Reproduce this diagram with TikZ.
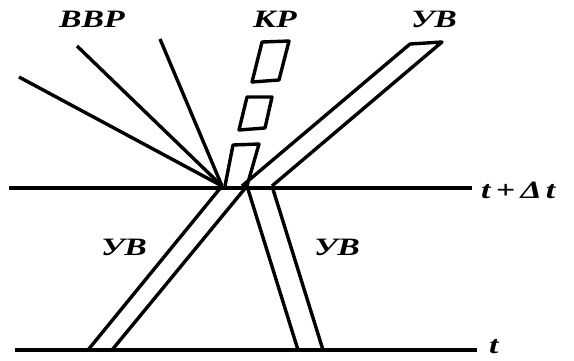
\documentclass[tikz,border=0pt]{standalone}
\usepackage{fontspec}
\setmainfont{Liberation Serif}
\newcommand{\lblw}[1]{\scalebox{1.35}[1]{#1}}
\begin{document}
\begin{tikzpicture}[x=1pt,y=-1pt,
  ln/.style={line width=3.4pt, line join=round},
  lbl/.style={font=\fontsize{25}{25}\selectfont\bfseries\itshape, inner sep=0pt}]
\useasboundingbox (0,0) rectangle (574,360);
% key points
\coordinate (C) at (222,186);
\coordinate (L1) at (9,188);
\coordinate (L2) at (472,188);
\coordinate (B1) at (15,350);
\coordinate (B2) at (477,350);
% horizontal lines
\draw[ln] (L1) -- (L2);
\draw[ln] (B1) -- (B2);
% BBP rays
\coordinate (r1) at (19,77);
\coordinate (r2) at (77,46);
\coordinate (r3) at (160,39);
\draw[ln] (r1) -- (C);
\draw[ln] (r2) -- (C);
\draw[ln] (r3) -- (C);
% KR dashes
\draw[ln] (262,42) -- (289,41) -- (279,80) -- (252,82) -- cycle;
\draw[ln] (247,97) -- (272,97) -- (265,128) -- (239,130) -- cycle;
\coordinate (k1) at (225,186);
\coordinate (k2) at (247,186);
\draw[ln] (k1) -- (233,145) -- (259,144) -- (k2);
% upper right UB band
\coordinate (u1) at (242,186);
\coordinate (u2) at (272,186);
\coordinate (ut1) at (410,44);
\coordinate (ut2) at (442,42);
\draw[ln] (u1) -- (ut1) -- (ut2) -- (u2);
% lower left UB band
\coordinate (ll1) at (88,350);
\coordinate (ll2) at (112,350);
\draw[ln] (C) -- (ll1);
\draw[ln] (k2) -- (ll2);
% lower right UB band
\coordinate (lr1) at (298,350);
\coordinate (lr2) at (323,350);
\draw[ln] (k2) -- (lr1);
\draw[ln] (u2) -- (lr2);
% labels
\node[lbl] (tBBP) at (92,19) {\lblw{ВВР}};
\node[lbl] (tKR) at (275,19) {\lblw{КР}};
\node[lbl] (tUB1) at (434,19) {\lblw{УВ}};
\node[lbl] (tUB2) at (124,247) {\lblw{УВ}};
\node[lbl] (tUB3) at (337,247) {\lblw{УВ}};
\node[lbl, anchor=west] (tdt) at (481,190) {\lblw{t\hspace{4pt}+\hspace{4pt}Δ\hspace{3pt}t}};
\node[lbl, anchor=west] (tt) at (489,347) {\lblw{t}};
\end{tikzpicture}
\end{document}
